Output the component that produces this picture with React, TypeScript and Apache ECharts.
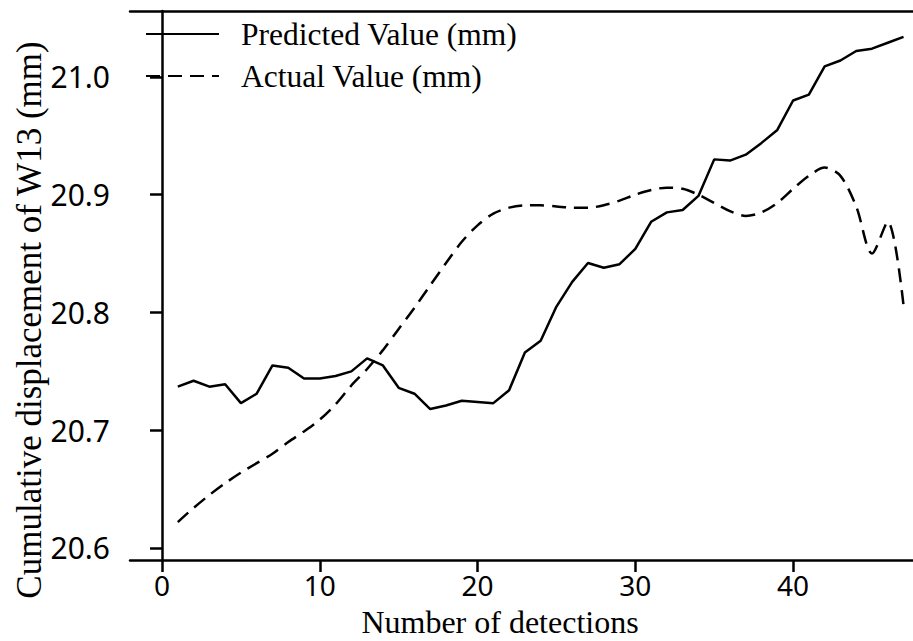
import React, { useEffect, useRef } from "react";
import * as echarts from "echarts";

const detections = [
  1, 2, 3, 4, 5, 6, 7, 8, 9, 10, 11, 12, 13, 14, 15, 16, 17, 18, 19, 20, 21, 22, 23, 24,
  25, 26, 27, 28, 29, 30, 31, 32, 33, 34, 35, 36, 37, 38, 39, 40, 41, 42, 43, 44, 45, 46, 47,
];

const predicted = [
  20.737, 20.742, 20.737, 20.739, 20.723, 20.731, 20.755, 20.753, 20.744, 20.744, 20.746,
  20.75, 20.761, 20.755, 20.736, 20.731, 20.718, 20.721, 20.725, 20.724, 20.723, 20.734,
  20.766, 20.776, 20.805, 20.826, 20.842, 20.838, 20.841, 20.854, 20.877, 20.885, 20.887,
  20.899, 20.93, 20.929, 20.934, 20.944, 20.955, 20.98, 20.985, 21.009, 21.014, 21.022,
  21.024, 21.029, 21.034,
];

const actual = [
  20.622, 20.634, 20.645, 20.655, 20.664, 20.672, 20.68, 20.69, 20.699, 20.709, 20.722,
  20.738, 20.752, 20.768, 20.786, 20.804, 20.823, 20.842, 20.86, 20.874, 20.884, 20.889,
  20.891, 20.891, 20.89, 20.889, 20.889, 20.891, 20.895, 20.9, 20.904, 20.906, 20.905, 20.9,
  20.893, 20.886, 20.882, 20.885, 20.893, 20.905, 20.916, 20.923, 20.916, 20.89, 20.85,
  20.877, 20.806,
];

const xTicks = [0, 10, 20, 30, 40];
const yTicks = [20.6, 20.7, 20.8, 20.9, 21.0];

const SERIF = "'Liberation Serif', 'Times New Roman', serif";
const SANS = "'Noto Sans', 'Open Sans', sans-serif";

export default function App() {
  const ref = useRef<HTMLDivElement>(null);
  useEffect(() => {
    if (!ref.current) return;
    const chart = echarts.init(ref.current, null, { renderer: "svg" });
    const axisLine = { show: true, lineStyle: { color: "#000", width: 2.5 } };
    const xmin = -2.03;
    const xmax = 47.6;
    chart.setOption({
      animation: false,
      backgroundColor: "#fff",
      grid: {
        left: 130,
        top: 11,
        right: 0,
        bottom: 81,
        containLabel: false,
        outerBoundsMode: "none",
      },
      legend: {
        orient: "vertical",
        left: 145,
        top: 18,
        padding: 0,
        itemGap: 10,
        itemWidth: 73,
        itemHeight: 14,
        itemStyle: { opacity: 0 },
        textStyle: {
          fontFamily: SERIF,
          fontSize: 31.5,
          color: "#000",
          lineHeight: 32,
          padding: [0, 0, 0, 17],
        },
        data: ["Predicted Value (mm)", "Actual Value (mm)"],
      },
      graphic: [
        {
          type: "text",
          x: 500,
          y: 622,
          style: {
            text: "Number of detections",
            fontFamily: SERIF,
            fontSize: 32,
            lineHeight: 30,
            fill: "#000",
            align: "center",
            verticalAlign: "middle",
          },
        },
        {
          type: "text",
          x: 29,
          y: 320,
          rotation: Math.PI / 2,
          style: {
            text: "Cumulative displacement of W13 (mm)",
            fontFamily: SERIF,
            fontSize: 35,
            fill: "#000",
            align: "center",
            verticalAlign: "middle",
          },
        },
      ],
      xAxis: [
        {
          type: "value",
          min: xmin,
          max: xmax,
          position: "bottom",
          axisLine,
          splitLine: { show: false },
          axisTick: {
            show: true,
            length: 12,
            lineStyle: { color: "#000", width: 2.5 },
            customValues: xTicks,
          },
          axisLabel: {
            customValues: xTicks,
            margin: 12,
            fontFamily: SANS,
            fontSize: 28,
            lineHeight: 26,
            color: "#000",
          },
        },
        {
          type: "value",
          min: xmin,
          max: xmax,
          position: "top",
          axisLine,
          axisTick: { show: false },
          axisLabel: { show: false },
          splitLine: { show: false },
        },
      ],
      yAxis: {
        type: "value",
        min: 20.5898,
        max: 21.056,
        axisLine,
        splitLine: { show: false },
        axisTick: {
          show: true,
          length: 12,
          lineStyle: { color: "#000", width: 2.5 },
          customValues: yTicks,
        },
        axisLabel: {
          customValues: yTicks,
          margin: 20,
          fontFamily: SANS,
          fontSize: 30,
          color: "#000",
          formatter: (v: number) => v.toFixed(1),
        },
      },
      series: [
        {
          name: "Predicted Value (mm)",
          type: "line",
          xAxisIndex: 0,
          symbol: "none",
          data: detections.map((d, i) => [d, predicted[i]]),
          lineStyle: { color: "#000", width: 2.5, type: "solid" },
          itemStyle: { color: "#000" },
        },
        {
          name: "Actual Value (mm)",
          type: "line",
          xAxisIndex: 0,
          symbol: "none",
          smooth: 0.3,
          data: detections.map((d, i) => [d, actual[i]]),
          lineStyle: { color: "#000", width: 2.5, type: [14, 8] },
          itemStyle: { color: "#000" },
        },
      ],
    });
    return () => chart.dispose();
  }, []);
  return (
    <div
      ref={ref}
      style={{ position: "fixed", left: 0, top: 0, width: 913, height: 641, background: "#fff" }}
    />
  );
}
